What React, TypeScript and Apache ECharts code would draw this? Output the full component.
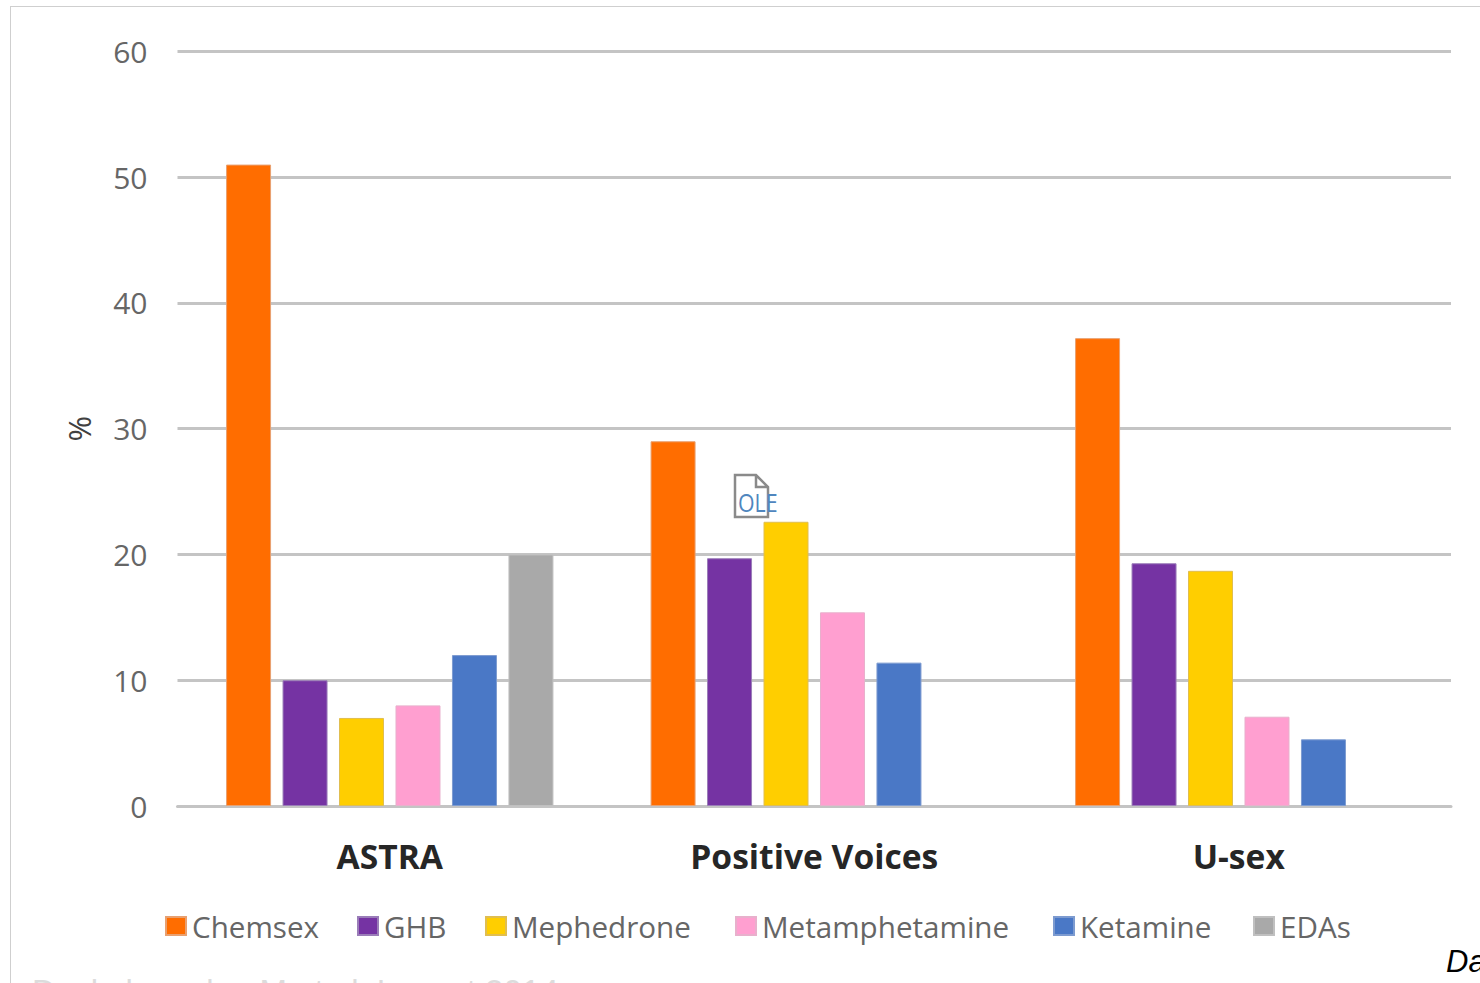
import React, { useEffect, useRef } from "react";
import * as echarts from "echarts";

const categories = ["ASTRA", "Positive Voices", "U-sex"];
const chemsex = [51, 29, 37.2];
const ghb = [10, 19.7, 19.3];
const mephedrone = [7, 22.6, 18.7];
const metamphetamine = [8, 15.4, 7.1];
const ketamine = [12, 11.4, 5.3];
const edas = [20, null, null];
const seriesNames = ["Chemsex", "GHB", "Mephedrone", "Metamphetamine", "Ketamine", "EDAs"];
const seriesValues = [chemsex, ghb, mephedrone, metamphetamine, ketamine, edas];
const colors = ["#FF6D00", "#7533A3", "#FFCE00", "#FF9FD0", "#4A78C6", "#A9A9A9"];
const borders = ["#E8A070", "#9A7DB8", "#E0BE50", "#E8B0CC", "#7D9BD0", "#C0C0C0"];
const legendLefts = [165, 357, 485, 735, 1053, 1253];
const FONT = "'Open Sans', sans-serif";

echarts.graphic.registerShape(
  "oleIcon",
  echarts.graphic.extendPath("M0 0L21 0L33 12L33 42L0 42ZM21 0L21 12L33 12", {}) as any,
);

export default function App() {
  const ref = useRef<HTMLDivElement>(null);
  useEffect(() => {
    const chart = echarts.init(ref.current!, null, { renderer: "svg" });
    chart.setOption({
      animation: false,
      backgroundColor: "#ffffff",
      grid: { left: 177.5, right: 29, top: 51.4, bottom: 177 },
      legend: seriesNames.map((name, i) => ({
        left: legendLefts[i],
        top: 911,
        padding: 0,
        itemWidth: 20,
        itemHeight: 18,
        icon: "rect",
        data: [name],
        textStyle: { fontFamily: FONT, fontSize: 29.6, color: "#666666", padding: [0, 0, 0, 1] },
      })),
      xAxis: {
        type: "category",
        data: categories,
        axisTick: { show: false },
        axisLine: { lineStyle: { color: "#c4c4c4", width: 3 } },
        axisLabel: { fontFamily: FONT, fontSize: 33.6, fontWeight: "bold", color: "#262626", margin: 33 },
      },
      yAxis: {
        type: "value",
        min: 0,
        max: 60,
        interval: 10,
        name: "%",
        nameLocation: "middle",
        nameGap: 83,
        nameTextStyle: { fontFamily: FONT, fontSize: 31, color: "#404040" },
        axisLine: { show: false },
        axisTick: { show: false },
        axisLabel: { fontFamily: FONT, fontSize: 30, color: "#666666", margin: 30, padding: [0, 0, 5, 0] },
        splitLine: { lineStyle: { color: "#c4c4c4", width: 3 } },
      },
      series: seriesNames.map((name, i) => ({
        name,
        type: "bar",
        data: seriesValues[i],
        barWidth: 45,
        barGap: "25.5%",
        itemStyle: { color: colors[i], borderColor: borders[i], borderWidth: 1 },
      })),
      graphic: [
        { type: "line", silent: true, shape: { x1: 10.5, y1: 6.5, x2: 10.5, y2: 983 }, style: { stroke: "#cfcfcf", lineWidth: 1 } },
        { type: "line", silent: true, shape: { x1: 10, y1: 6.5, x2: 1480, y2: 6.5 }, style: { stroke: "#cfcfcf", lineWidth: 1 } },
        { type: "oleIcon", x: 735, y: 475, style: { fill: "#ffffff", stroke: "#8a8a8a", lineWidth: 2.5 } },
        { type: "text", x: 738, y: 489, scaleX: 0.82, style: { text: "OLE", fontFamily: FONT, fontSize: 26, fill: "#4F86BE" } },
        { type: "text", x: 1446, y: 946, style: { text: "Data", fontFamily: "'Liberation Sans', sans-serif", fontStyle: "italic", fontSize: 31, fill: "#000000" } },
        { type: "text", x: 32, y: 975, style: { text: "Daskalopoulou M et al. Lancet 2014", fontFamily: "'Liberation Sans', sans-serif", fontSize: 33, fill: "#dcdcdc" } },
      ],
    });
    return () => chart.dispose();
  }, []);
  return <div ref={ref} style={{ position: "fixed", left: 0, top: 0, width: 1480, height: 983, overflow: "hidden" }} />;
}
